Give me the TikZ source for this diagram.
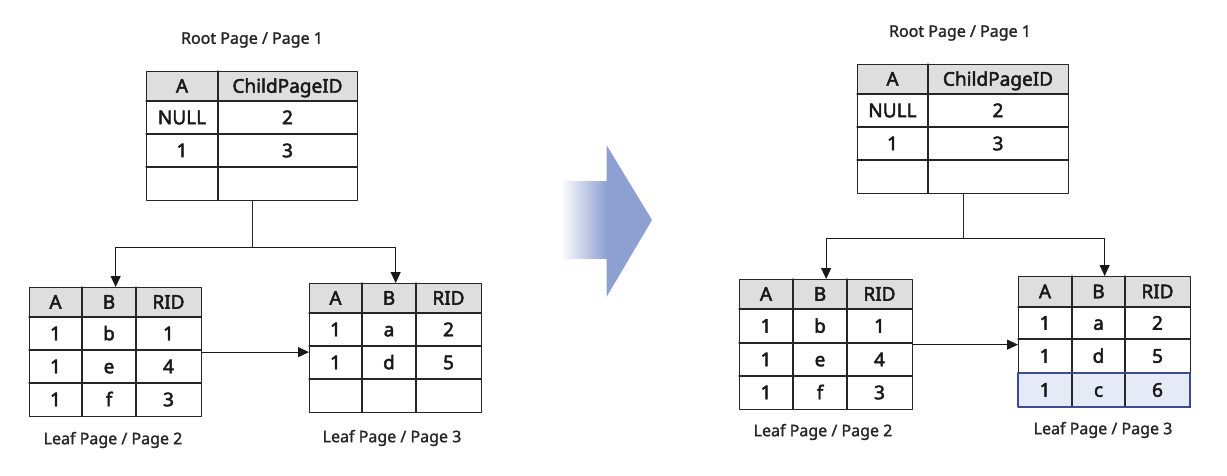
\documentclass[tikz,border=0pt]{standalone}
\usepackage{fontspec}
\setmainfont{Noto Sans}
\newfontfamily\cellfont[FakeBold=2.5]{Noto Sans}
\newfontfamily\capfont[FakeBold=1.5]{Noto Sans}
\usetikzlibrary{arrows.meta}
\usetikzlibrary{positioning}

\tikzset{
  pagebox/.style={draw=black!85, line width=1.3pt, inner sep=0pt, anchor=north west},
  gridline/.style={draw=black!85, line width=1.1pt},
  cell/.style={font=\cellfont\fontsize{19}{19}\selectfont, text=black!90, inner sep=0pt, text height=15.5pt, text depth=2pt},
  caption/.style={font=\capfont\fontsize{16}{16}\selectfont, text=black!85},
  link/.style={draw=black!90, line width=1.1pt, -{Triangle[length=11pt,width=10pt]}},
}

\begin{document}
\begin{tikzpicture}[x=1pt, y=-1pt, line join=round, line cap=round]

\definecolor{HeadGray}{HTML}{DEDEDE}
\definecolor{NewRow}{HTML}{E6E9F6}
\definecolor{NewEdge}{HTML}{3A4C95}
\definecolor{FlowBlue}{HTML}{8E9FD2}

\useasboundingbox (0,0) rectangle (1227,476);

%%%%% before the insert
\node[caption] (capL1) at (252,40) {Root Page / Page 1};
\begin{scope}[shift={(146,71)}]
\fill[HeadGray] (0,0) rectangle (211,30);
\draw[gridline] (72,0) -- (72,129);
\foreach \y in {30,63,96} \draw[gridline] (0,\y) -- (211,\y);
\node[pagebox, minimum width=211pt, minimum height=129pt] (rootL) at (0,0) {};
\foreach \y/\a/\b [count=\r] in {15/A/ChildPageID, 46.5/NULL/2, 79.5/1/3}
{ \node[cell] (rootL-\r-1) at (36,\y) {\a};
  \node[cell] (rootL-\r-2) at (141.5,\y) {\b}; }
\end{scope}

\node[caption] (capL2) at (113,440) {Leaf Page / Page 2};
\begin{scope}[shift={(29,287)}]
\fill[HeadGray] (0,0) rectangle (172,30);
\foreach \x in {53,107} \draw[gridline] (\x,0) -- (\x,129);
\foreach \y in {30,63,96} \draw[gridline] (0,\y) -- (172,\y);
\node[pagebox, minimum width=172pt, minimum height=129pt] (leafL2) at (0,0) {};
\foreach \y/\a/\b/\c [count=\r] in {15/A/B/RID, 46.5/1/b/1, 79.5/1/e/4, 112.5/1/f/3}
{ \node[cell] (leafL2-\r-1) at (26.5,\y) {\a};
  \node[cell] (leafL2-\r-2) at (80,\y) {\b};
  \node[cell] (leafL2-\r-3) at (139.5,\y) {\c}; }
\end{scope}

\node[caption] (capL3) at (392,438) {Leaf Page / Page 3};
\begin{scope}[shift={(309,283)}]
\fill[HeadGray] (0,0) rectangle (172,30);
\foreach \x in {53,107} \draw[gridline] (\x,0) -- (\x,129);
\foreach \y in {30,63,96} \draw[gridline] (0,\y) -- (172,\y);
\node[pagebox, minimum width=172pt, minimum height=129pt] (leafL3) at (0,0) {};
\foreach \y/\a/\b/\c [count=\r] in {15/A/B/RID, 46.5/1/a/2, 79.5/1/d/5}
{ \node[cell] (leafL3-\r-1) at (26.5,\y) {\a};
  \node[cell] (leafL3-\r-2) at (80,\y) {\b};
  \node[cell] (leafL3-\r-3) at (139.5,\y) {\c}; }
\end{scope}

\draw[gridline] (rootL.south) -- ++(0,46) coordinate (forkL);
\draw[link] (forkL) -| (leafL2.north);
\draw[link] (forkL) -| (leafL3.north);
\draw[link] (leafL2.east) -- (leafL2.east -| leafL3.west);

%%%%% big arrow
\shade[left color=FlowBlue!6, right color=FlowBlue] (563,182) rectangle (607,258);
\fill[FlowBlue] (606.5,145) -- (652,220) -- (606.5,297) -- cycle;

%%%%% after the insert
\node[caption] (capR1) at (960,33) {Root Page / Page 1};
\begin{scope}[shift={(857,64)}]
\fill[HeadGray] (0,0) rectangle (211,30);
\draw[gridline] (71,0) -- (71,129);
\foreach \y in {30,63,96} \draw[gridline] (0,\y) -- (211,\y);
\node[pagebox, minimum width=211pt, minimum height=129pt] (rootR) at (0,0) {};
\foreach \y/\a/\b [count=\r] in {15/A/ChildPageID, 46.5/NULL/2, 79.5/1/3}
{ \node[cell] (rootR-\r-1) at (35.5,\y) {\a};
  \node[cell] (rootR-\r-2) at (141,\y) {\b}; }
\end{scope}

\node[caption] (capR2) at (823,432) {Leaf Page / Page 2};
\begin{scope}[shift={(739,279)}]
\fill[HeadGray] (0,0) rectangle (173,30);
\foreach \x in {54,108} \draw[gridline] (\x,0) -- (\x,130);
\foreach \y in {30,64,97} \draw[gridline] (0,\y) -- (173,\y);
\node[pagebox, minimum width=173pt, minimum height=130pt] (leafR2) at (0,0) {};
\foreach \y/\a/\b/\c [count=\r] in {15/A/B/RID, 47/1/b/1, 80.5/1/e/4, 113.5/1/f/3}
{ \node[cell] (leafR2-\r-1) at (27,\y) {\a};
  \node[cell] (leafR2-\r-2) at (81,\y) {\b};
  \node[cell] (leafR2-\r-3) at (140.5,\y) {\c}; }
\end{scope}

\node[caption] (capR3) at (1103,430) {Leaf Page / Page 3};
\begin{scope}[shift={(1018,276)}]
\fill[HeadGray] (0,0) rectangle (172,31);
\fill[NewRow] (0,97) rectangle (172,131);
\foreach \x in {54,107} \draw[gridline] (\x,0) -- (\x,131);
\foreach \y in {31,63,97} \draw[gridline] (0,\y) -- (172,\y);
\node[pagebox, minimum width=172pt, minimum height=131pt] (leafR3) at (0,0) {};
\draw[NewEdge, line width=1.3pt] (0,97) rectangle (172,131);
\foreach \y/\a/\b/\c [count=\r] in {15.5/A/B/RID, 47/1/a/2, 80/1/d/5, 114/1/c/6}
{ \node[cell] (leafR3-\r-1) at (27,\y) {\a};
  \node[cell] (leafR3-\r-2) at (80.5,\y) {\b};
  \node[cell] (leafR3-\r-3) at (139.5,\y) {\c}; }
\end{scope}

\draw[gridline] (rootR.south) -- ++(0,44) coordinate (forkR);
\draw[link] (forkR) -| (leafR2.north);
\draw[link] (forkR) -| (leafR3.north);
\draw[link] (leafR2.east) -- (leafR2.east -| leafR3.west);

\end{tikzpicture}
\end{document}
